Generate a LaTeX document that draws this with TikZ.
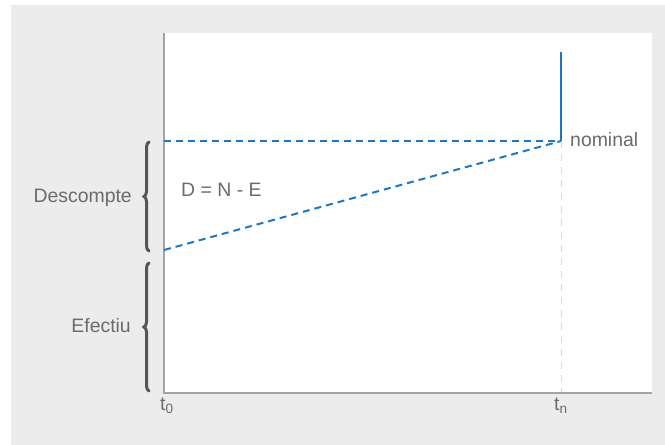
\documentclass[tikz,border=0pt]{standalone}
\usepackage{fontspec}
\setmainfont{Liberation Sans}
\usetikzlibrary{decorations.pathreplacing}
\definecolor{bggray}{HTML}{EBECEB}
\definecolor{axisgray}{HTML}{A3A3A3}
\definecolor{txtgray}{HTML}{6B6B6B}
\definecolor{bracegray}{HTML}{555555}
\definecolor{lineblue}{HTML}{1F77BF}
\definecolor{guidegray}{HTML}{D8D8D8}
\begin{document}
\begin{tikzpicture}[x=1bp,y=-1bp,
  lbl/.style={text=txtgray,font=\fontsize{19.5}{22}\selectfont,inner sep=0pt},
  axisline/.style={draw=axisgray,line width=2bp},
  bluedash/.style={draw=lineblue,line width=2bp,dash pattern=on 7bp off 5bp},
  guide/.style={draw=guidegray,line width=1bp,dash pattern=on 7bp off 6bp},
  bracestyle/.style={draw=bracegray,line width=3bp,line cap=round,decorate,decoration={brace,amplitude=5bp,aspect=0.5}}]
\useasboundingbox (0,0) rectangle (665,445);
\fill[bggray] (11,5) rectangle (665,445);
\fill[white] (164,33) rectangle (652,393);
% coordinates
\coordinate (O) at (164,393);
\coordinate (Ytop) at (164,33);
\coordinate (Xend) at (652,393);
\coordinate (N) at (561,141);
\coordinate (Ntop) at (561,52);
\coordinate (Nbot) at (561,393);
\coordinate (E) at (164,250);
\coordinate (H) at (164,141);
% guide
\draw[guide] (N) -- (Nbot);
% axes
\draw[axisline] (Ytop) -- (O) -- (Xend);
% blue lines
\draw[bluedash] (H) -- (N);
\draw[bluedash] (E) -- (N);
\draw[draw=lineblue,line width=2bp] (N) -- (Ntop);
% braces
\coordinate (B1a) at (149,251);
\coordinate (B1b) at (149,142);
\coordinate (B2a) at (149,391);
\coordinate (B2b) at (149,263);
\draw[bracestyle] (B1a) -- (B1b);
\draw[bracestyle] (B2a) -- (B2b);
% labels
\node[lbl,anchor=east] (desc) at (132,198) {Descompte};
\node[lbl,anchor=east] (efec) at (131,326) {Efectiu};
\node[lbl,anchor=west] (dne) at (181,190) {D = N - E};
\node[lbl,anchor=west] (nom) at (570,140) {nominal};
\node[lbl,anchor=north west] (t0) at (160,398) {t\textsubscript{0}};
\node[lbl,anchor=north west] (tn) at (554,398) {t\textsubscript{n}};
\end{tikzpicture}
\end{document}
